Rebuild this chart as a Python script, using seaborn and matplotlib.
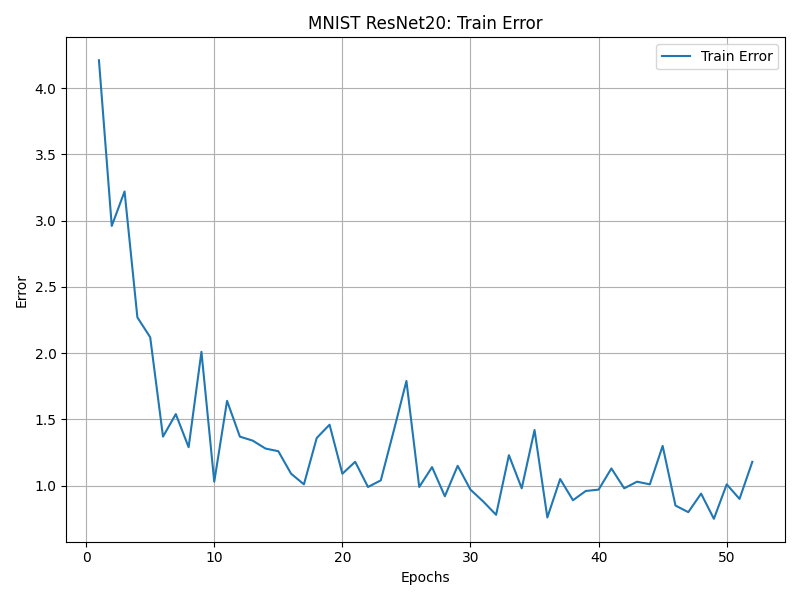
import matplotlib
matplotlib.use("Agg")
import matplotlib.pyplot as plt
import pandas as pd
import seaborn as sns

epochs = list(range(1, 53))
train_error = [
    4.21, 2.96, 3.22, 2.27, 2.12, 1.37, 1.54, 1.29, 2.01, 1.03,
    1.64, 1.37, 1.34, 1.28, 1.26, 1.09, 1.01, 1.36, 1.46, 1.09,
    1.18, 0.99, 1.04, 1.41, 1.79, 0.99, 1.14, 0.92, 1.15, 0.97,
    0.88, 0.78, 1.23, 0.98, 1.42, 0.76, 1.05, 0.89, 0.96, 0.97,
    1.13, 0.98, 1.03, 1.01, 1.30, 0.85, 0.80, 0.94, 0.75, 1.01,
    0.90, 1.18,
]

df = pd.DataFrame({"Epochs": epochs, "Error": train_error})

fig, ax = plt.subplots(figsize=(8, 6), dpi=100)
sns.lineplot(data=df, x="Epochs", y="Error", ax=ax, label="Train Error", color="#1f77b4")
ax.set_title("MNIST ResNet20: Train Error")
ax.set_xlabel("Epochs")
ax.set_ylabel("Error")
ax.grid(True)
ax.legend(loc="upper right")
plt.tight_layout()
plt.savefig("out.png")
plt.close(fig)
